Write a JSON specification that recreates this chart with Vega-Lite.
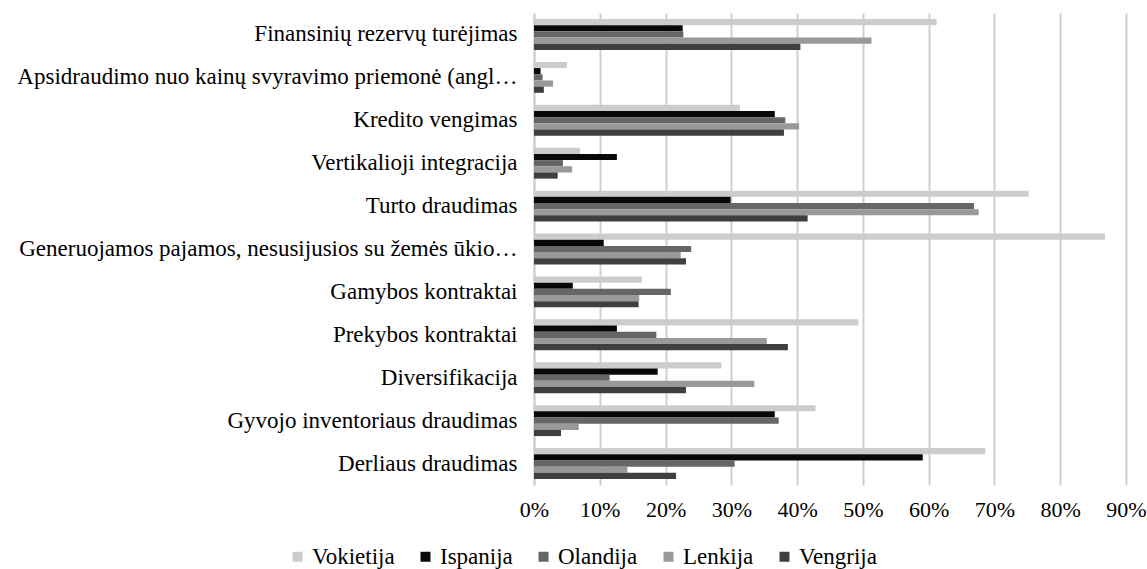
{
  "$schema": "https://vega.github.io/schema/vega-lite/v6.json",
  "width": 592,
  "height": 472,
  "autosize": {"type": "none"},
  "padding": {"left": 534, "top": 13, "right": 21, "bottom": 84},
  "background": "white",
  "config": {
    "font": "Liberation Serif",
    "view": {"stroke": null},
    "axis": {"labelFont": "Liberation Serif"},
    "legend": {"labelFont": "Liberation Serif"}
  },
  "data": {
    "values": [
      {"c": "Finansinių rezervų turėjimas", "s": "Vokietija", "v": 0.612},
      {"c": "Finansinių rezervų turėjimas", "s": "Ispanija", "v": 0.226},
      {"c": "Finansinių rezervų turėjimas", "s": "Olandija", "v": 0.227},
      {"c": "Finansinių rezervų turėjimas", "s": "Lenkija", "v": 0.513},
      {"c": "Finansinių rezervų turėjimas", "s": "Vengrija", "v": 0.405},
      {"c": "Apsidraudimo nuo kainų svyravimo priemonė (angl…", "s": "Vokietija", "v": 0.05},
      {"c": "Apsidraudimo nuo kainų svyravimo priemonė (angl…", "s": "Ispanija", "v": 0.01},
      {"c": "Apsidraudimo nuo kainų svyravimo priemonė (angl…", "s": "Olandija", "v": 0.013},
      {"c": "Apsidraudimo nuo kainų svyravimo priemonė (angl…", "s": "Lenkija", "v": 0.029},
      {"c": "Apsidraudimo nuo kainų svyravimo priemonė (angl…", "s": "Vengrija", "v": 0.015},
      {"c": "Kredito vengimas", "s": "Vokietija", "v": 0.313},
      {"c": "Kredito vengimas", "s": "Ispanija", "v": 0.366},
      {"c": "Kredito vengimas", "s": "Olandija", "v": 0.382},
      {"c": "Kredito vengimas", "s": "Lenkija", "v": 0.403},
      {"c": "Kredito vengimas", "s": "Vengrija", "v": 0.38},
      {"c": "Vertikalioji integracija", "s": "Vokietija", "v": 0.07},
      {"c": "Vertikalioji integracija", "s": "Ispanija", "v": 0.126},
      {"c": "Vertikalioji integracija", "s": "Olandija", "v": 0.044},
      {"c": "Vertikalioji integracija", "s": "Lenkija", "v": 0.058},
      {"c": "Vertikalioji integracija", "s": "Vengrija", "v": 0.036},
      {"c": "Turto draudimas", "s": "Vokietija", "v": 0.752},
      {"c": "Turto draudimas", "s": "Ispanija", "v": 0.299},
      {"c": "Turto draudimas", "s": "Olandija", "v": 0.669},
      {"c": "Turto draudimas", "s": "Lenkija", "v": 0.676},
      {"c": "Turto draudimas", "s": "Vengrija", "v": 0.416},
      {"c": "Generuojamos pajamos, nesusijusios su žemės ūkio…", "s": "Vokietija", "v": 0.868},
      {"c": "Generuojamos pajamos, nesusijusios su žemės ūkio…", "s": "Ispanija", "v": 0.106},
      {"c": "Generuojamos pajamos, nesusijusios su žemės ūkio…", "s": "Olandija", "v": 0.239},
      {"c": "Generuojamos pajamos, nesusijusios su žemės ūkio…", "s": "Lenkija", "v": 0.223},
      {"c": "Generuojamos pajamos, nesusijusios su žemės ūkio…", "s": "Vengrija", "v": 0.231},
      {"c": "Gamybos kontraktai", "s": "Vokietija", "v": 0.164},
      {"c": "Gamybos kontraktai", "s": "Ispanija", "v": 0.059},
      {"c": "Gamybos kontraktai", "s": "Olandija", "v": 0.208},
      {"c": "Gamybos kontraktai", "s": "Lenkija", "v": 0.16},
      {"c": "Gamybos kontraktai", "s": "Vengrija", "v": 0.159},
      {"c": "Prekybos kontraktai", "s": "Vokietija", "v": 0.493},
      {"c": "Prekybos kontraktai", "s": "Ispanija", "v": 0.126},
      {"c": "Prekybos kontraktai", "s": "Olandija", "v": 0.186},
      {"c": "Prekybos kontraktai", "s": "Lenkija", "v": 0.354},
      {"c": "Prekybos kontraktai", "s": "Vengrija", "v": 0.386},
      {"c": "Diversifikacija", "s": "Vokietija", "v": 0.285},
      {"c": "Diversifikacija", "s": "Ispanija", "v": 0.188},
      {"c": "Diversifikacija", "s": "Olandija", "v": 0.115},
      {"c": "Diversifikacija", "s": "Lenkija", "v": 0.335},
      {"c": "Diversifikacija", "s": "Vengrija", "v": 0.231},
      {"c": "Gyvojo inventoriaus draudimas", "s": "Vokietija", "v": 0.428},
      {"c": "Gyvojo inventoriaus draudimas", "s": "Ispanija", "v": 0.366},
      {"c": "Gyvojo inventoriaus draudimas", "s": "Olandija", "v": 0.372},
      {"c": "Gyvojo inventoriaus draudimas", "s": "Lenkija", "v": 0.068},
      {"c": "Gyvojo inventoriaus draudimas", "s": "Vengrija", "v": 0.041},
      {"c": "Derliaus draudimas", "s": "Vokietija", "v": 0.686},
      {"c": "Derliaus draudimas", "s": "Ispanija", "v": 0.591},
      {"c": "Derliaus draudimas", "s": "Olandija", "v": 0.305},
      {"c": "Derliaus draudimas", "s": "Lenkija", "v": 0.142},
      {"c": "Derliaus draudimas", "s": "Vengrija", "v": 0.216}
    ]
  },
  "mark": {"type": "bar"},
  "encoding": {
    "y": {
      "field": "c",
      "type": "nominal",
      "sort": null,
      "scale": {"paddingInner": 0.28, "paddingOuter": 0.14},
      "axis": {
        "title": null,
        "ticks": false,
        "domainColor": "#d0d0d0",
        "domainWidth": 2,
        "labelFont": "Liberation Serif",
        "labelFontSize": 23,
        "labelColor": "#000000",
        "labelPadding": 17,
        "labelLimit": 600
      }
    },
    "yOffset": {
      "field": "s",
      "type": "nominal",
      "sort": ["Vokietija", "Ispanija", "Olandija", "Lenkija", "Vengrija"],
      "scale": {"paddingInner": 0, "paddingOuter": 0}
    },
    "x": {
      "field": "v",
      "type": "quantitative",
      "scale": {"domain": [0, 0.9], "nice": false},
      "axis": {
        "title": null,
        "format": ".0%",
        "values": [0, 0.1, 0.2, 0.3, 0.4, 0.5, 0.6, 0.7, 0.8, 0.9],
        "grid": true,
        "gridColor": "#d0d0d0",
        "gridWidth": 2,
        "domain": false,
        "ticks": false,
        "labelFlush": false,
        "labelFont": "Liberation Serif",
        "labelFontSize": 22,
        "labelColor": "#000000",
        "labelPadding": 14
      }
    },
    "color": {
      "field": "s",
      "type": "nominal",
      "sort": ["Vokietija", "Ispanija", "Olandija", "Lenkija", "Vengrija"],
      "scale": {
        "domain": ["Vokietija", "Ispanija", "Olandija", "Lenkija", "Vengrija"],
        "range": ["#cccccc", "#080808", "#666666", "#999999", "#3f3f3f"]
      },
      "legend": {
        "title": null,
        "orient": "none",
        "direction": "horizontal",
        "legendX": -248,
        "legendY": 532,
        "symbolType": "square",
        "symbolSize": 100,
        "symbolStrokeWidth": 0,
        "labelFont": "Liberation Serif",
        "labelFontSize": 23,
        "labelColor": "#000000",
        "labelOffset": 3,
        "columnPadding": 19
      }
    }
  }
}
